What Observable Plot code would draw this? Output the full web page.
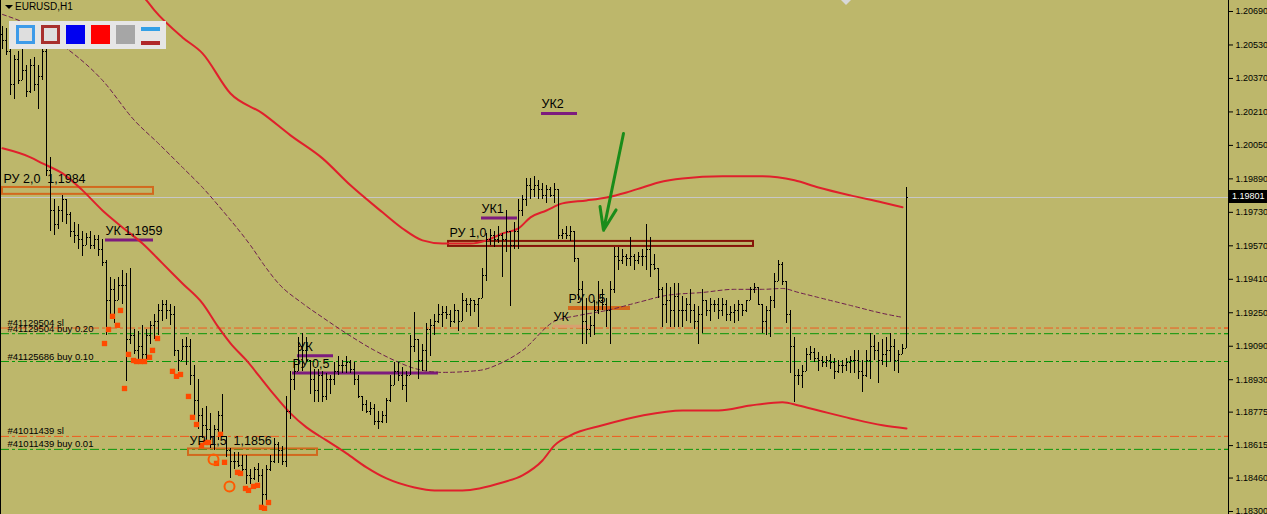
<!DOCTYPE html>
<html>
<head>
<meta charset="utf-8">
<script src="https://cdn.jsdelivr.net/npm/d3@7"></script>
<script src="https://cdn.jsdelivr.net/npm/@observablehq/plot@0.6"></script>
<style>
  body { margin: 0; background: #BDB76B; }
  #wrap { position: relative; width: 1267px; height: 514px; overflow: hidden; background: #BDB76B;
          font-family: "Liberation Sans", Arial, sans-serif; }
  #chart svg { display: block; }
  .tri { position: absolute; left: 5px; top: 5px; width: 0; height: 0;
         border-left: 4px solid transparent; border-right: 4px solid transparent; border-top: 4px solid #000; }
  .sym { position: absolute; left: 15px; top: 1px; font-size: 10px; line-height: 12px; color: #000; }
  .tools { position: absolute; left: 9px; top: 21px; width: 157px; height: 28px; background: #e6e6e6; }
  .tb { position: absolute; top: 4px; width: 19px; height: 19px; box-sizing: border-box; }
  .shift { position: absolute; left: 841px; top: 0; width: 0; height: 0;
           border-left: 5px solid transparent; border-right: 5px solid transparent; border-top: 5px solid #d8d8d8; }
  .bid { position: absolute; left: 1229px; width: 38px; height: 13px; background: #000; color: #fff;
         font-size: 9px; line-height: 13px; padding-left: 3px; box-sizing: border-box; }
</style>
</head>
<body>
<div id="wrap">
  <div id="chart"></div>
  <div class="tri"></div>
  <div class="sym">EURUSD,H1</div>
  <div class="tools">
    <div class="tb" style="left:7px;border:3px solid #3d9be9;background:#dedede"></div>
    <div class="tb" style="left:32px;border:3px solid #a8302e;background:#dedede"></div>
    <div class="tb" style="left:57px;background:#0000f0"></div>
    <div class="tb" style="left:82px;background:#ff0000"></div>
    <div class="tb" style="left:107px;background:#a6a6a6"></div>
    <div style="position:absolute;left:132px;top:6px;width:19px;height:4px;background:#33a0e6"></div>
    <div style="position:absolute;left:132px;top:20px;width:19px;height:4px;background:#b0282a"></div>
  </div>
  <div class="shift"></div>
  <div class="bid" id="bid"></div>
</div>
<script>
// EURUSD H1 price bars, one per hour (index 0 = oldest)
const open = [
  1.2058,1.2055,1.2050,1.2034,1.2046,1.2036,1.2041,1.2031,1.2043,1.2034,
  1.2038,1.2050,1.1993,1.1974,1.1967,1.1974,1.1979,1.1972,1.1964,1.1962,
  1.1960,1.1957,1.1961,1.1957,1.1960,1.1955,1.1949,1.1931,1.1936,1.1931,
  1.1938,1.1938,1.1912,1.1914,1.1907,1.1909,1.1905,1.1914,1.1919,1.1921,
  1.1926,1.1929,1.1926,1.1924,1.1907,1.1902,1.1909,1.1909,1.1895,1.1883,
  1.1876,1.1871,1.1869,1.1866,1.1869,1.1876,1.1866,1.1859,1.1854,1.1854,
  1.1852,1.1850,1.1847,1.1846,1.1850,1.1847,1.1838,1.1850,1.1854,1.1862,
  1.1859,1.1854,1.1878,1.1893,1.1897,1.1909,1.1907,1.1902,1.1893,1.1888,
  1.1895,1.1885,1.1893,1.1893,1.1897,1.1900,1.1900,1.1901,1.1898,1.1893,
  1.1885,1.1881,1.1878,1.1879,1.1873,1.1873,1.1876,1.1883,1.1890,1.1897,
  1.1895,1.1890,1.1895,1.1909,1.1912,1.1902,1.1907,1.1917,1.1919,1.1921,
  1.1924,1.1925,1.1924,1.1921,1.1926,1.1921,1.1931,1.1929,1.1931,1.1929,
  1.1932,1.1943,1.1960,1.1962,1.1960,1.1962,1.1960,1.1964,1.1957,1.1964,
  1.1974,1.1979,1.1986,1.1984,1.1986,1.1984,1.1981,1.1984,1.1981,1.1984,
  1.1962,1.1963,1.1962,1.1964,1.1951,1.1936,1.1921,1.1917,1.1919,1.1926,
  1.1931,1.1929,1.1926,1.1936,1.1952,1.1950,1.1952,1.1951,1.1952,1.1950,
  1.1952,1.1952,1.1955,1.1948,1.1946,1.1936,1.1929,1.1931,1.1926,1.1933,
  1.1926,1.1926,1.1929,1.1926,1.1921,1.1924,1.1931,1.1926,1.1929,1.1929,
  1.1926,1.1929,1.1924,1.1925,1.1926,1.1929,1.1926,1.1931,1.1936,1.1937,
  1.1929,1.1921,1.1926,1.1931,1.1940,1.1948,1.1940,1.1924,1.1909,1.1895,
  1.1895,1.1897,1.1905,1.1906,1.1903,1.1902,1.1901,1.1902,1.1901,1.1897,
  1.1900,1.1900,1.1901,1.1902,1.1902,1.1897,1.1895,1.1902,1.1909,1.1907,
  1.1902,1.1905,1.1907,1.1909,1.1902,1.1905,1.1908
];
const high = [
  1.2062,1.2061,1.2058,1.2048,1.2050,1.2053,1.2043,1.2046,1.2047,1.2043,
  1.2053,1.2054,1.1999,1.1979,1.1976,1.1981,1.1979,1.1973,1.1968,1.1967,
  1.1964,1.1963,1.1964,1.1962,1.1962,1.1960,1.1950,1.1942,1.1941,1.1942,
  1.1945,1.1944,1.1946,1.1917,1.1916,1.1919,1.1917,1.1921,1.1924,1.1929,
  1.1931,1.1931,1.1929,1.1928,1.1907,1.1912,1.1913,1.1912,1.1900,1.1893,
  1.1879,1.1880,1.1877,1.1871,1.1878,1.1886,1.1866,1.1860,1.1858,1.1858,
  1.1857,1.1857,1.1850,1.1851,1.1853,1.1850,1.1852,1.1857,1.1865,1.1863,
  1.1861,1.1885,1.1897,1.1901,1.1913,1.1915,1.1913,1.1902,1.1898,1.1898,
  1.1897,1.1896,1.1895,1.1901,1.1904,1.1902,1.1904,1.1902,1.1901,1.1895,
  1.1885,1.1883,1.1882,1.1881,1.1878,1.1878,1.1884,1.1895,1.1901,1.1901,
  1.1899,1.1897,1.1914,1.1925,1.1912,1.1910,1.1920,1.1922,1.1924,1.1929,
  1.1928,1.1928,1.1926,1.1929,1.1926,1.1934,1.1932,1.1932,1.1931,1.1932,
  1.1946,1.1963,1.1965,1.1964,1.1966,1.1963,1.1974,1.1964,1.1968,1.1979,
  1.1981,1.1989,1.1989,1.1990,1.1988,1.1987,1.1986,1.1985,1.1987,1.1984,
  1.1965,1.1966,1.1966,1.1964,1.1951,1.1940,1.1932,1.1923,1.1931,1.1940,
  1.1936,1.1932,1.1940,1.1956,1.1956,1.1955,1.1953,1.1961,1.1953,1.1954,
  1.1955,1.1967,1.1961,1.1953,1.1946,1.1937,1.1939,1.1937,1.1939,1.1939,
  1.1933,1.1932,1.1936,1.1929,1.1928,1.1936,1.1931,1.1932,1.1931,1.1932,
  1.1932,1.1931,1.1928,1.1929,1.1931,1.1929,1.1931,1.1937,1.1939,1.1937,
  1.1929,1.1928,1.1933,1.1944,1.1950,1.1949,1.1940,1.1926,1.1913,1.1898,
  1.1900,1.1908,1.1909,1.1908,1.1906,1.1904,1.1904,1.1905,1.1903,1.1902,
  1.1902,1.1903,1.1904,1.1907,1.1907,1.1902,1.1907,1.1915,1.1914,1.1911,
  1.1912,1.1913,1.1915,1.1912,1.1907,1.1910,1.1985
];
const low = [
  1.2051,1.2048,1.2029,1.2027,1.2034,1.2036,1.2028,1.2030,1.2031,1.2022,
  1.2036,1.1990,1.1964,1.1962,1.1965,1.1968,1.1967,1.1961,1.1958,1.1955,
  1.1952,1.1957,1.1955,1.1955,1.1952,1.1947,1.1914,1.1924,1.1920,1.1931,
  1.1929,1.1892,1.1910,1.1905,1.1902,1.1901,1.1902,1.1910,1.1912,1.1914,
  1.1921,1.1922,1.1919,1.1904,1.1897,1.1902,1.1900,1.1890,1.1876,1.1869,
  1.1865,1.1862,1.1860,1.1859,1.1864,1.1866,1.1856,1.1846,1.1850,1.1851,
  1.1847,1.1843,1.1843,1.1845,1.1844,1.1833,1.1835,1.1849,1.1853,1.1853,
  1.1852,1.1851,1.1874,1.1888,1.1897,1.1897,1.1901,1.1886,1.1882,1.1882,
  1.1882,1.1883,1.1886,1.1890,1.1895,1.1896,1.1896,1.1896,1.1890,1.1884,
  1.1878,1.1877,1.1876,1.1871,1.1869,1.1872,1.1872,1.1882,1.1890,1.1892,
  1.1888,1.1882,1.1895,1.1906,1.1893,1.1897,1.1897,1.1904,1.1914,1.1920,
  1.1918,1.1922,1.1918,1.1920,1.1916,1.1921,1.1925,1.1923,1.1925,1.1918,
  1.1932,1.1940,1.1957,1.1956,1.1958,1.1942,1.1954,1.1928,1.1955,1.1955,
  1.1971,1.1976,1.1979,1.1980,1.1979,1.1979,1.1977,1.1980,1.1977,1.1960,
  1.1960,1.1960,1.1959,1.1949,1.1931,1.1910,1.1910,1.1913,1.1914,1.1924,
  1.1926,1.1918,1.1910,1.1934,1.1945,1.1948,1.1947,1.1947,1.1945,1.1948,
  1.1947,1.1945,1.1942,1.1945,1.1932,1.1918,1.1920,1.1918,1.1918,1.1918,
  1.1918,1.1921,1.1920,1.1917,1.1910,1.1915,1.1923,1.1921,1.1925,1.1922,
  1.1923,1.1921,1.1921,1.1920,1.1921,1.1923,1.1925,1.1931,1.1934,1.1929,
  1.1915,1.1914,1.1913,1.1927,1.1940,1.1938,1.1920,1.1896,1.1882,1.1890,
  1.1889,1.1897,1.1902,1.1901,1.1897,1.1899,1.1899,1.1898,1.1893,1.1896,
  1.1896,1.1897,1.1896,1.1896,1.1893,1.1887,1.1894,1.1893,1.1902,1.1891,
  1.1900,1.1899,1.1901,1.1897,1.1896,1.1905,1.1908
];
const close = [
  1.2055,1.2050,1.2034,1.2046,1.2036,1.2041,1.2031,1.2043,1.2034,1.2038,
  1.2050,1.1993,1.1974,1.1967,1.1974,1.1979,1.1972,1.1964,1.1962,1.1960,
  1.1957,1.1961,1.1957,1.1960,1.1955,1.1949,1.1931,1.1936,1.1931,1.1938,
  1.1938,1.1912,1.1914,1.1907,1.1909,1.1905,1.1914,1.1919,1.1921,1.1926,
  1.1929,1.1926,1.1924,1.1907,1.1902,1.1909,1.1909,1.1895,1.1883,1.1876,
  1.1871,1.1869,1.1866,1.1869,1.1876,1.1866,1.1859,1.1854,1.1854,1.1852,
  1.1850,1.1847,1.1846,1.1850,1.1847,1.1838,1.1850,1.1854,1.1862,1.1859,
  1.1854,1.1878,1.1893,1.1897,1.1909,1.1907,1.1902,1.1893,1.1888,1.1895,
  1.1885,1.1893,1.1893,1.1897,1.1900,1.1900,1.1901,1.1898,1.1893,1.1885,
  1.1881,1.1878,1.1879,1.1873,1.1873,1.1876,1.1883,1.1890,1.1897,1.1895,
  1.1890,1.1895,1.1909,1.1912,1.1902,1.1907,1.1917,1.1919,1.1921,1.1924,
  1.1925,1.1924,1.1921,1.1926,1.1921,1.1931,1.1929,1.1931,1.1929,1.1932,
  1.1943,1.1960,1.1962,1.1960,1.1962,1.1960,1.1964,1.1957,1.1964,1.1974,
  1.1979,1.1986,1.1984,1.1986,1.1984,1.1981,1.1984,1.1981,1.1984,1.1962,
  1.1963,1.1962,1.1964,1.1951,1.1936,1.1921,1.1917,1.1919,1.1926,1.1931,
  1.1929,1.1926,1.1936,1.1952,1.1950,1.1952,1.1951,1.1952,1.1950,1.1952,
  1.1952,1.1955,1.1948,1.1946,1.1936,1.1929,1.1931,1.1926,1.1933,1.1926,
  1.1926,1.1929,1.1926,1.1921,1.1924,1.1931,1.1926,1.1929,1.1929,1.1926,
  1.1929,1.1924,1.1925,1.1926,1.1929,1.1926,1.1931,1.1936,1.1937,1.1929,
  1.1921,1.1926,1.1931,1.1940,1.1948,1.1940,1.1924,1.1909,1.1895,1.1895,
  1.1897,1.1905,1.1906,1.1903,1.1902,1.1901,1.1902,1.1901,1.1897,1.1900,
  1.1900,1.1901,1.1902,1.1902,1.1897,1.1895,1.1902,1.1909,1.1907,1.1902,
  1.1905,1.1907,1.1909,1.1902,1.1905,1.1908,1.19801
];

// Envelope indicator: upper band, lower band and the dashed middle average (bar index -> price)
const upperIdx = [34,36,38,45,50,57,65,72,80,87,95,100,105,110,117,121,125,129,132,136,140,146,151,156,160,164,170,180,190,198,204,212,220,225];
const upperVal = [1.20781,1.20743,1.20695,1.20566,1.20490,1.20298,1.20203,1.20098,1.19988,1.19859,
                  1.19730,1.19653,1.19596,1.19581,1.19581,1.19596,1.19629,1.19653,1.19706,1.19739,
                  1.19773,1.19787,1.19801,1.19825,1.19849,1.19873,1.19892,1.19902,1.19902,1.19883,
                  1.19849,1.19811,1.19777,1.19754];
const lowerIdx = [0,7,10,15,20,25,30,35,40,45,50,54,57,61,67,72,76,81,86,91,96,103,108,115,125,130,135,138,142,150,160,170,179,187,195,199,204,212,220,226];
const lowerVal = [1.20036,1.19993,1.19964,1.19916,1.19835,1.19739,1.19658,1.19581,1.19486,1.19390,
                  1.19295,1.19180,1.19104,1.19022,1.18879,1.18769,1.18702,1.18640,1.18578,1.18511,
                  1.18458,1.18415,1.18401,1.18401,1.18439,1.18473,1.18544,1.18616,1.18664,1.18712,
                  1.18759,1.18783,1.18783,1.18807,1.18822,1.18807,1.18783,1.18745,1.18712,1.18697];
const middleIdx = [0,7,15,25,33,39,45,50,55,62,66,69,75,80,86,93,98,103,110,119,125,130,138,144,151,159,166,175,183,190,195,199,204,212,220,225];
const middleVal = [1.20676,1.20623,1.20528,1.20361,1.20169,1.20059,1.19945,1.19849,1.19739,1.19572,
                   1.19462,1.19390,1.19295,1.19228,1.19151,1.19070,1.19022,1.18984,1.18965,1.18974,
                   1.19013,1.19070,1.19209,1.19237,1.19261,1.19300,1.19333,1.19347,1.19362,1.19362,
                   1.19366,1.19347,1.19323,1.19285,1.19247,1.19228];

// Open orders (stop-loss and entry levels)
const orderLabels = ["#41129504 sl", "#41129504 buy 0.20", "#41125686 buy 0.10", "#41011439 sl", "#41011439 buy 0.01"];
const orderPrices = [1.19177, 1.19150, 1.19017, 1.18659, 1.18597];
const orderTypes  = ["sl", "buy", "buy", "sl", "buy"];

// Price zones drawn as outlined rectangles
const zoneLabels = ["РУ 2,0\u00a0\u00a01,1984", "РУ 1,0", "УР 1,5\u00a0\u00a01,1856"];
const zoneStart  = [0, 111.5, 46.5];
const zoneEnd    = [37.75, 187.75, 78.75];
const zoneTop    = [1.19849, 1.19591, 1.18599];
const zoneBottom = [1.19816, 1.19567, 1.18568];
const zoneKinds  = ["ru", "ru1", "ru"];

// Horizontal level segments
const levelLabels = ["УК 1,1959", "УК1", "УК2", "РУ 0,5", "УК", "УК", "РУ 0,5"];
const levelStart  = [25.75, 119.75, 134.75, 141.5, 137.75, 73.75, 72.5];
const levelEnd    = [37.75, 128.75, 143.75, 157, 147, 82.75, 109];
const levelPrice  = [1.19598, 1.19703, 1.20203, 1.19273, 1.19185, 1.19044, 1.18962];
const levelKinds  = ["uk", "uk", "uk", "ru", "ukLight", "uk", "uk"];

// Signal markers under the lows
const markIdx = [25.5,26.5,27.5,28.75,29.5,30.5,31.5,32.75,33.5,34.5,35.5,36.75,37.5,38.75,42.5,43.5,44.5,46.5,47.5,48.5,
                 49.75,50.75,51.5,53.5,54.5,55.5,58.75,59.5,60.75,61.5,62.75,63.75,64.75,65.5,66.5];
const markPrice = [1.19103,1.19170,1.19233,1.19190,1.19261,1.18888,1.19051,1.19022,1.19017,1.19017,1.19017,1.19037,1.19070,1.19127,
                   1.18970,1.18946,1.18955,1.18850,1.18750,1.18716,1.18616,1.18630,1.18630,1.18530,1.18669,1.18535,1.18487,1.18482,
                   1.18410,1.18401,1.18420,1.18425,1.18320,1.18315,1.18343];
const circleIdx = [52.75, 56.75];
const circlePrice = [1.18549, 1.18420];

// Hand-drawn arrow (start -> tip)
const arrowFrom = [155.25, 1.20107];
const arrowTo   = [150.25, 1.19644];

// Price scale ticks
const priceTicks = [1.20690,1.20530,1.20370,1.20210,1.20050,1.19890,1.19730,1.19570,1.19410,1.19250,1.19090,1.18930,1.18775,1.18615,1.18460,1.18300];

// ---- styles ----
const BG = "#BDB76B";
const kindColor = {ru: "#d2691e", ru1: "#861408", uk: "#7d1b7e", ukLight: "#d8a070"};
const levelWidth = {ru: 4, uk: 3, ukLight: 3};
const orderColor = {sl: "#f05a1e", buy: "#0a960a"};

const bars = high.map((h, i) => ({i, open: open[i], high: h, low: low[i], close: close[i]}));
const lastPrice = close[close.length - 1];
const orders = orderLabels.map((label, k) => ({label, price: orderPrices[k], type: orderTypes[k]}));
const zones = zoneLabels.map((label, k) => ({label, x1: zoneStart[k], x2: zoneEnd[k], top: zoneTop[k], bottom: zoneBottom[k], kind: zoneKinds[k]}));
const levels = levelLabels.map((label, k) => ({label, x1: levelStart[k], x2: levelEnd[k], price: levelPrice[k], kind: levelKinds[k]}));
const upper = upperIdx.map((i, k) => ({i, v: upperVal[k]}));
const lower = lowerIdx.map((i, k) => ({i, v: lowerVal[k]}));
const middle = middleIdx.map((i, k) => ({i, v: middleVal[k]}));
const marks = markIdx.map((i, k) => ({i, v: markPrice[k]}));
const circles = circleIdx.map((i, k) => ({i, v: circlePrice[k]}));

const chart = Plot.plot({
  width: 1267,
  height: 514,
  marginLeft: 0,
  marginRight: 39,
  marginTop: 0,
  marginBottom: 0,
  x: {domain: [-0.5, 306.5], axis: null},
  y: {domain: [1.182857, 1.207426], axis: null},
  style: {background: BG, fontFamily: "Liberation Sans, Arial, sans-serif", fontSize: "9px", color: "#000", overflow: "visible"},
  marks: [
    // bid line
    Plot.ruleY([lastPrice], {stroke: "#c8c8c8", strokeWidth: 1}),
    // order levels
    Plot.ruleY(orders, {y: "price", stroke: d => orderColor[d.type], strokeWidth: 1, strokeDasharray: "9,3,3,3"}),
    Plot.text(orders, {x: -0.5, y: "price", text: "label", textAnchor: "start", lineAnchor: "bottom", dx: 7, dy: -2,
                       fontSize: 9.5, fill: "#000"}),
    // zones and level segments
    Plot.rect(zones, {x1: "x1", x2: "x2", y1: "bottom", y2: "top", fill: "none", stroke: d => kindColor[d.kind], strokeWidth: 2}),
    Plot.ruleY(levels, {y: "price", x1: "x1", x2: "x2", stroke: d => kindColor[d.kind], strokeWidth: d => levelWidth[d.kind]}),
    // envelope
    Plot.line(middle, {x: "i", y: "v", stroke: "#6e1e4e", strokeWidth: 1, strokeDasharray: "4,3", curve: "monotone-x"}),
    Plot.line(upper, {x: "i", y: "v", stroke: "#e0202c", strokeWidth: 2, curve: "monotone-x", clip: true}),
    Plot.line(lower, {x: "i", y: "v", stroke: "#e0202c", strokeWidth: 2, curve: "monotone-x", clip: true}),
    // OHLC bars
    Plot.ruleX(bars, {x: "i", y1: "low", y2: "high", stroke: "#000", strokeWidth: 1, shapeRendering: "crispEdges"}),
    Plot.ruleY(bars, {y: "open", x1: d => d.i - 0.375, x2: "i", stroke: "#000", strokeWidth: 1, shapeRendering: "crispEdges"}),
    Plot.ruleY(bars, {y: "close", x1: "i", x2: d => d.i + 0.375, stroke: "#000", strokeWidth: 1, shapeRendering: "crispEdges"}),
    // markers
    Plot.dot(marks, {x: "i", y: "v", symbol: "square", r: 3, fill: "#ff4a00", stroke: "none"}),
    Plot.dot(circles, {x: "i", y: "v", r: 5, fill: "none", stroke: "#ff5a00", strokeWidth: 2}),
    // labels for zones and levels
    Plot.text(zones, {x: "x1", y: "top", text: "label", textAnchor: "start", lineAnchor: "bottom", dx: 1, dy: -4,
                      fontSize: 12.5, fill: "#000"}),
    Plot.text(levels, {x: "x1", y: "price", text: "label", textAnchor: "start", lineAnchor: "bottom", dx: 0, dy: -5,
                       fontSize: 12.5, fill: "#000"}),
    // arrow
    Plot.arrow([{x1: arrowFrom[0], y1: arrowFrom[1], x2: arrowTo[0], y2: arrowTo[1]}],
               {x1: "x1", y1: "y1", x2: "x2", y2: "y2", stroke: "#1a8c1a", strokeWidth: 3, headLength: 12, headAngle: 40}),
    // order markers on the price scale
    Plot.ruleY(orders, {y: "price", x1: 305.5, x2: 306.5, stroke: d => orderColor[d.type], strokeWidth: 1}),
    // left border and price scale
    Plot.ruleX([-0.5], {stroke: "#000", strokeWidth: 1}),
    Plot.frame({anchor: "right", stroke: "#000"}),
    Plot.axisY(priceTicks, {anchor: "right", tickSize: 4, tickPadding: 3, tickFormat: d => d.toFixed(5),
                            fontSize: 9, label: null, stroke: "#000"})
  ]
});

document.getElementById("chart").appendChild(chart);

// bid price tag on the price scale
const bid = document.getElementById("bid");
bid.textContent = lastPrice.toFixed(5);
bid.style.top = (chart.scale("y").apply(lastPrice) - 6.5) + "px";
</script>
</body>
</html>
